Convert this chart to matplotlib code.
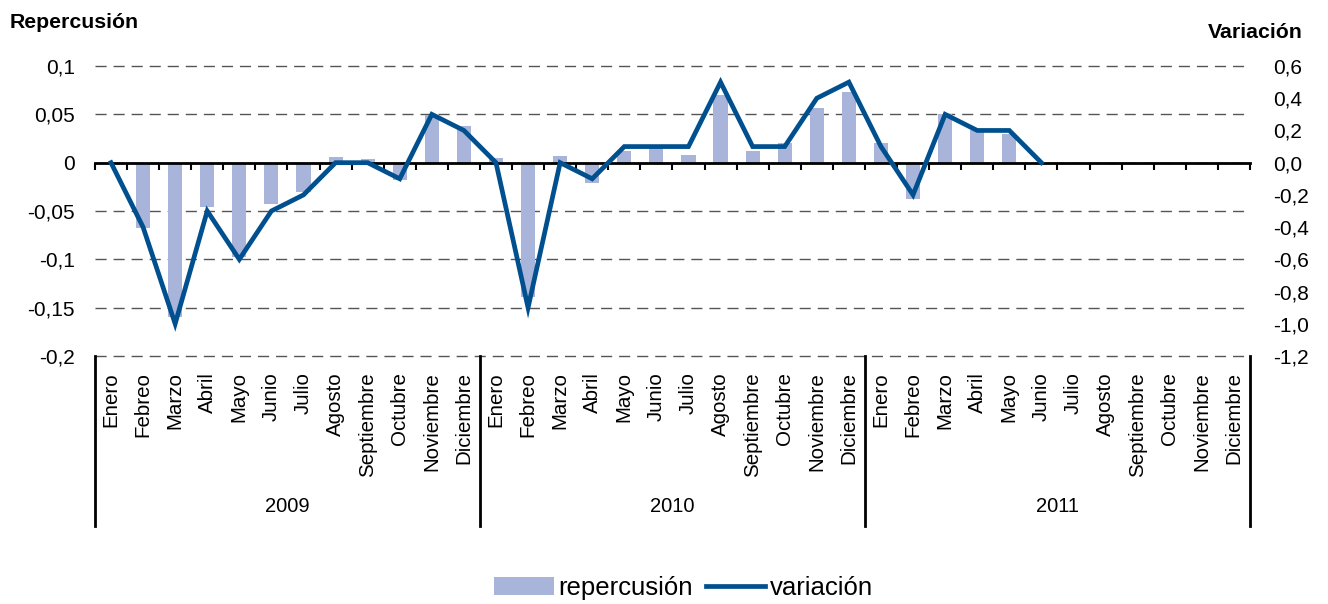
import numpy as np
import matplotlib.pyplot as plt
import matplotlib.transforms as mtransforms
from matplotlib.ticker import FuncFormatter

plt.rcParams['font.family'] = ['Liberation Sans', 'DejaVu Sans']

# data --------------------------------------------------------------------
months = ["Enero", "Febreo", "Marzo", "Abril", "Mayo", "Junio", "Julio",
          "Agosto", "Septiembre", "Octubre", "Noviembre", "Diciembre"]
years = ["2009", "2010", "2011"]

repercusion = [0.0, -0.068, -0.160, -0.046, -0.098, -0.043, -0.030, 0.006, 0.004, -0.018, 0.049, 0.038,
               0.005, -0.139, 0.007, -0.021, 0.012, 0.016, 0.008, 0.070, 0.012, 0.020, 0.057, 0.073,
               0.020, -0.038, 0.050, 0.034, 0.030, 0.0, np.nan, np.nan, np.nan, np.nan, np.nan, np.nan]
variacion = [0.0, -0.4, -1.0, -0.3, -0.6, -0.3, -0.2, 0.0, 0.0, -0.1, 0.3, 0.2,
             0.0, -0.9, 0.0, -0.1, 0.1, 0.1, 0.1, 0.5, 0.1, 0.1, 0.4, 0.5,
             0.1, -0.2, 0.3, 0.2, 0.2, 0.0, np.nan, np.nan, np.nan, np.nan, np.nan, np.nan]

bar_col = '#A9B4DA'
line_col = '#00508F'

n = len(months) * len(years)
x = np.arange(n)

fig = plt.figure(figsize=(13.28, 6.04), dpi=100)
ax = fig.add_axes([0.0715, 0.4106, 0.8697, 0.4801])
ax2 = ax.twinx()

ax.bar(x, repercusion, width=0.44, color=bar_col, zorder=2, label='repercusión')
ax2.plot(x, variacion, color=line_col, lw=3.4, solid_joinstyle='miter', zorder=3, label='variación')

ax.set_xlim(-0.5, n - 0.5)
ax.set_ylim(-0.2, 0.1)
ax2.set_ylim(-1.2, 0.6)

ax.set_yticks([0.1, 0.05, 0, -0.05, -0.1, -0.15, -0.2])
ax2.set_yticks(np.arange(-1.2, 0.61, 0.2))
ax.yaxis.set_major_formatter(FuncFormatter(lambda v, p: ('%g' % round(v, 3)).replace('.', ',')))
ax2.yaxis.set_major_formatter(FuncFormatter(lambda v, p: ('%.1f' % (v + 0.0)).replace('.', ',').replace('-0,0', '0,0')))
ax.tick_params(axis='y', length=0, pad=14.5, labelsize=15)
ax2.tick_params(axis='y', length=0, pad=17, labelsize=15)

# dashed grid
ax.yaxis.grid(True, color='#555555', lw=1.0, linestyle=(0, (8, 5)), zorder=0)
ax.set_axisbelow(True)
for gl in ax.get_ygridlines():
    gl.set_clip_on(False)

for a in (ax, ax2):
    for s in ('left', 'right', 'top', 'bottom'):
        a.spines[s].set_visible(False)

# zero axis with ticks at category boundaries
ax.spines['bottom'].set_visible(True)
ax.spines['bottom'].set_position(('data', 0))
ax.spines['bottom'].set_linewidth(2)
ax.spines['bottom'].set_zorder(2.5)
ax.set_xticks(np.arange(-0.5, n, 1))
ax.tick_params(axis='x', length=5, width=1.5, labelbottom=False, direction='out')

# category labels and year separators
trans = mtransforms.blended_transform_factory(ax.transData, ax.transAxes)
for i in range(n):
    ax.text(x[i], -0.055, months[i % 12], transform=trans, rotation=90,
            ha='center', va='top', fontsize=14.8)
for k in range(len(years) + 1):
    ax.plot([k * 12 - 0.5, k * 12 - 0.5], [0, -0.585], transform=trans,
            color='black', lw=2, clip_on=False)
for k, yr in enumerate(years):
    ax.text(k * 12 + 5.5, -0.52, yr, transform=trans, ha='center', va='center', fontsize=14.5)

fig.text(0.0075, 0.963, 'Repercusión', fontsize=15.3, fontweight='bold', ha='left', va='center')
fig.text(0.981, 0.947, 'Variación', fontsize=15.3, fontweight='bold', ha='right', va='center')

h1, l1 = ax.get_legend_handles_labels()
h2, l2 = ax2.get_legend_handles_labels()
fig.legend(h1 + h2, l1 + l2, loc='center', bbox_to_anchor=(0.515, 0.027), ncol=2,
           frameon=False, fontsize=18.5, handlelength=2.3, handletextpad=0.2,
           columnspacing=0.5)

fig.savefig('out.png', dpi=100)
